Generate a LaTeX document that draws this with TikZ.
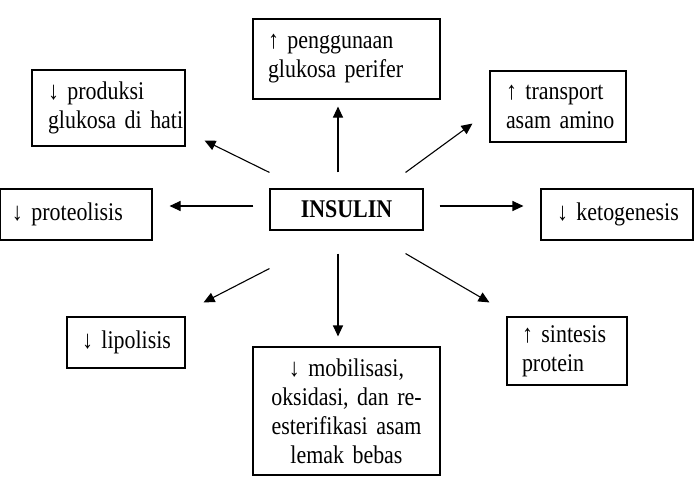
\documentclass[tikz,border=0pt]{standalone}
\usepackage{fontspec}
\setmainfont{Liberation Serif}[FakeStretch=0.86]
\usetikzlibrary{arrows.meta,calc}

\begin{document}
\begin{tikzpicture}[x=1pt, y=-1pt, font=\fontsize{25.5}{29}\selectfont,
  >={Triangle[length=11pt,width=10pt]},
  box/.style={draw, line width=1.1pt, inner ysep=0pt, align=left,
    execute at begin node={\hyphenpenalty=10000\exhyphenpenalty=10000}},
  link/.style={->, line width=1.1pt}]
\useasboundingbox (0,0) rectangle (694,490);
% ---------- centre ----------
\node[box, align=center, minimum width=153pt, minimum height=41pt,
  font=\fontsize{25.5}{29}\selectfont\bfseries] (ins) at (346.5,209.5) {INSULIN};
% ---------- effects, clockwise from the top ----------
\node[box, text width=157pt, inner xsep=15pt, minimum height=80pt] (pengg) at (346.5,59)
  {↑~penggunaan\\glukosa~perifer};
\node[box, text width=104pt, inner xsep=16pt, minimum height=71pt] (trans) at (558,106.5)
  {↑~transport\\asam~amino};
\node[box, text width=120pt, inner xsep=16pt, minimum height=51pt] (keto) at (617,214.5)
  {↓~ketogenesis};
\node[box, text width=90pt, inner xsep=15pt, minimum height=68pt] (sint) at (567,351)
  {↑~sintesis\\protein};
\node[box, align=center, text width=167pt, inner xsep=10pt, minimum height=128pt] (mob) at (346.5,411)
  {↓~mobilisasi,\\oksidasi,~dan~re-\\esterifikasi~asam\\lemak~bebas};
\node[box, text width=88pt, inner xsep=15pt, minimum height=51pt] (lipo) at (126,342.5)
  {↓~lipolisis};
\node[box, text width=128pt, inner xsep=12pt, minimum height=51pt] (prot) at (76,214.5)
  {↓~proteolisis};
\node[box, text width=121pt, inner xsep=16pt, minimum height=76pt] (prod) at (108.5,108)
  {↓~produksi\\glukosa~di~hati};
% ---------- arrows out of insulin ----------
\draw[link] ($(ins.north)+(-8.5,-16)$) -- ($(pengg.south)+(-8.5,7)$);
\draw[link] ($(ins.north east)+(-18,-16)$) -- ($(trans.south west)+(-17,-19)$);
\draw[link] ($(ins.east)+(16,-3.5)$) -- ($(keto.west)+(-17,-8.5)$);
\draw[link] ($(ins.south east)+(-18,23)$) -- ($(sint.north west)+(-17,-14)$);
\draw[link] ($(ins.south)+(-8.5,23)$) -- ($(mob.north)+(-8.5,-10)$);
\draw[link] ($(ins.south west)+(0,38)$) -- ($(lipo.north east)+(18,-14)$);
\draw[link] ($(ins.west)+(-16,-3.5)$) -- ($(prot.east)+(17,-8.5)$);
\draw[link] ($(ins.north west)+(0,-16)$) -- ($(prod.south east)+(19,-6)$);
\end{tikzpicture}
\end{document}
